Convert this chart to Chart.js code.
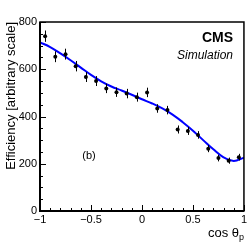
<!DOCTYPE html>
<html><head><meta charset="utf-8">
<script src="https://cdn.jsdelivr.net/npm/chart.js@4.4.1/dist/chart.umd.min.js"></script>
<style>html,body{margin:0;padding:0;background:#fff}#wrap{width:249px;height:242px}</style>
</head><body><div id="wrap"><canvas id="c" width="249" height="242"></canvas></div>
<script>
const binCenters = [-0.95,-0.85,-0.75,-0.65,-0.55,-0.45,-0.35,-0.25,-0.15,-0.05,0.05,0.15,0.25,0.35,0.45,0.55,0.65,0.75,0.85,0.95];
const efficiency = [740,653,664,613,567,550,519,503,497,482,502,434,427,345,339,322,264,224,213,228];
const efficiencyErr = [24,23,23,22,21,21,20,20,20,19,20,18,18,17,17,16,15,14,13,14];
const fitX = [-1,-0.9,-0.8,-0.7,-0.6,-0.5,-0.4,-0.3,-0.2,-0.1,0,0.1,0.2,0.3,0.4,0.5,0.6,0.7,0.8,0.9,1];
const fitY = [714,694,667,638,607,576,549,527,510,492,473,455,434,408,376,340,300,261,227,212,226];
const xTickValues = [-1,-0.5,0,0.5,1];
const xTickLabels = ['\u22121','\u22120.5','0','0.5','1'];
const yTickLabels = ['0','200','400','600','800'];

const FONT = 'Liberation Sans, Arial, Helvetica, sans-serif';

const overlay = {
  id: 'overlay',
  afterDatasetsDraw(chart) {
    const ctx = chart.ctx, xs = chart.scales.x, ys = chart.scales.y, a = chart.chartArea;
    ctx.save();
    ctx.strokeStyle = '#000'; ctx.lineWidth = 1;
    for (let i = 0; i < binCenters.length; i++) {
      const px = Math.round(xs.getPixelForValue(binCenters[i])) + 0.5;
      ctx.beginPath();
      ctx.moveTo(px, ys.getPixelForValue(efficiency[i] - efficiencyErr[i]));
      ctx.lineTo(px, ys.getPixelForValue(efficiency[i] + efficiencyErr[i]));
      ctx.stroke();
    }
    ctx.lineWidth = 1;
    for (let v = 0; v <= 800; v += 50) {
      const py = Math.round(ys.getPixelForValue(v)) + 0.5;
      const len = (v % 200 === 0) ? 6 : 3;
      ctx.beginPath(); ctx.moveTo(a.left, py); ctx.lineTo(a.left + len, py); ctx.stroke();
    }
    for (let k = -10; k <= 10; k++) {
      const v = k / 10;
      const px = Math.round(xs.getPixelForValue(v)) + 0.5;
      const len = (k % 5 === 0) ? 6 : 3;
      ctx.beginPath(); ctx.moveTo(px, a.bottom); ctx.lineTo(px, a.bottom - len); ctx.stroke();
    }
    ctx.lineWidth = 1.5;
    ctx.strokeRect(a.left, a.top, a.right - a.left, a.bottom - a.top);
    ctx.lineWidth = 2;
    ctx.beginPath(); ctx.moveTo(a.left, a.top); ctx.lineTo(a.left, a.bottom); ctx.lineTo(a.right, a.bottom); ctx.stroke();
    ctx.fillStyle = '#000';
    ctx.textBaseline = 'alphabetic';
    ctx.textAlign = 'right';
    ctx.font = 'bold 14px ' + FONT;
    ctx.fillText('CMS', 233, 42);
    ctx.font = 'italic 12px ' + FONT;
    ctx.fillText('Simulation', 233, 59);
    ctx.textAlign = 'center';
    ctx.font = '11px ' + FONT;
    ctx.fillText('(b)', 89, 159);
    ctx.textAlign = 'left';
    ctx.font = '13px ' + FONT;
    const t = 'cos \u03b8';
    ctx.fillText(t, 208, 237);
    const w = ctx.measureText(t).width;
    ctx.font = '9px ' + FONT;
    ctx.fillText('p', 208 + w, 240);
    ctx.restore();
  }
};

new Chart(document.getElementById('c'), {
  data: {
    datasets: [
      { type: 'line', data: fitX.map((x, i) => ({x, y: fitY[i]})), borderColor: '#0000ff', borderWidth: 2, pointRadius: 0, tension: 0.4, fill: false, order: 2 },
      { type: 'scatter', data: binCenters.map((x, i) => ({x, y: efficiency[i]})), backgroundColor: '#000', borderColor: '#000', pointRadius: 2, pointBorderWidth: 0, order: 1 }
    ]
  },
  options: {
    responsive: false, animation: false, devicePixelRatio: 1,
    layout: { padding: { left: 0, top: 22, right: 5, bottom: 0 } },
    plugins: { legend: { display: false }, tooltip: { enabled: false } },
    scales: {
      x: {
        type: 'linear', min: -1, max: 1,
        afterFit: s => { s.height = 31; },
        afterBuildTicks: s => { s.ticks = xTickValues.map(v => ({ value: v })); },
        ticks: { color: '#000', font: { family: FONT, size: 11 }, padding: 2, maxRotation: 0, autoSkip: false,
          callback: (v) => xTickLabels[xTickValues.indexOf(v)] },
        grid: { display: false, drawTicks: false },
        border: { display: false }
      },
      y: {
        type: 'linear', min: 0, max: 800,
        afterFit: s => { s.width = 40; },
        ticks: { stepSize: 200, color: '#000', font: { family: FONT, size: 11 }, padding: 3,
          callback: (v) => yTickLabels[Math.round(v / 200)] },
        grid: { display: false, drawTicks: false },
        border: { display: false },
        title: { display: true, text: 'Efficiency [arbitrary scale]', align: 'end', color: '#000', font: { family: FONT, size: 13 }, padding: { top: 4, bottom: 0 } }
      }
    }
  },
  plugins: [overlay]
});
</script></body></html>
